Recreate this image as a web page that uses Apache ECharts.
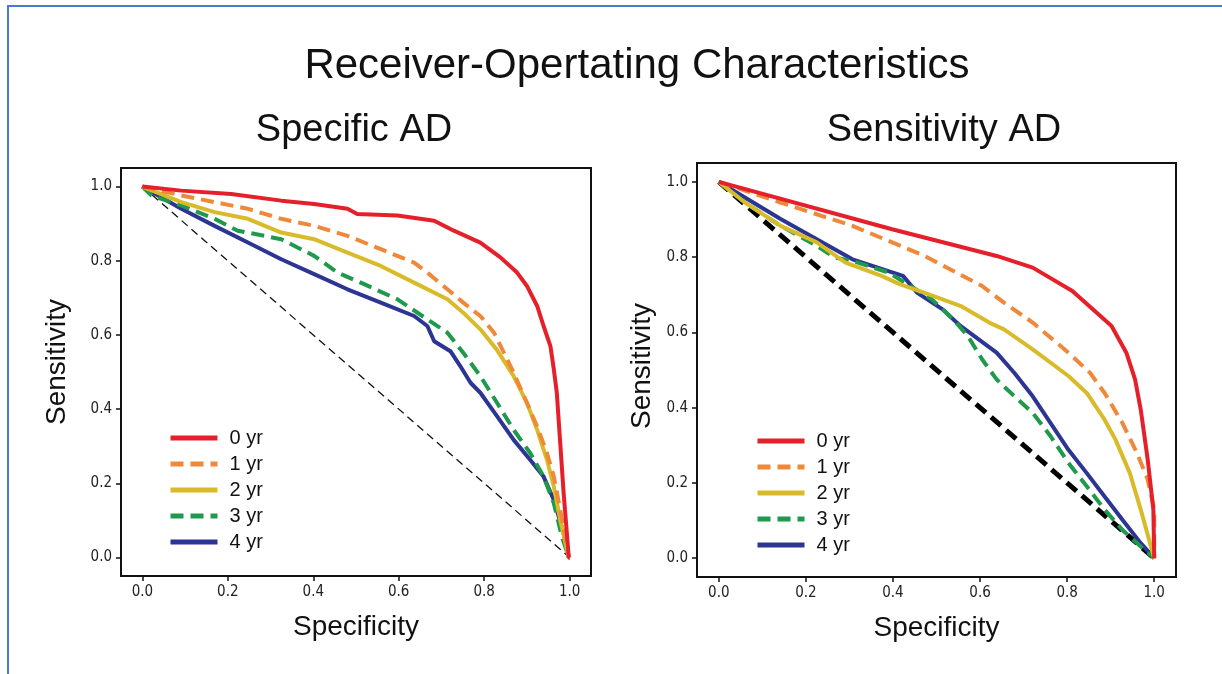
<!DOCTYPE html>
<html>
<head>
<meta charset="utf-8">
<script src="https://cdn.jsdelivr.net/npm/echarts@6/dist/echarts.min.js"></script>
<style>
html,body{margin:0;padding:0;background:#fff;}
#chart{width:1222px;height:674px;}
</style>
</head>
<body>
<div id="chart"></div>
<script>
// ---- data ----
const seriesNames = ['0 yr', '1 yr', '2 yr', '3 yr', '4 yr'];
const tickValues = [0, 0.2, 0.4, 0.6, 0.8, 1.0];

// Left panel: Specific AD  [specificity, sensitivity]
const specific0 = [[0,1],[0.091,0.989],[0.208,0.98],[0.325,0.962],[0.402,0.953],[0.48,0.94],[0.503,0.926],[0.597,0.922],[0.683,0.908],[0.729,0.881],[0.791,0.849],[0.838,0.809],[0.877,0.768],[0.9,0.732],[0.924,0.678],[0.939,0.624],[0.955,0.57],[0.963,0.507],[0.97,0.444],[0.978,0.308],[0.986,0.173],[0.998,0.0],[1,0]];
const specific1 = [[0,1],[0.091,0.976],[0.169,0.958],[0.247,0.94],[0.325,0.913],[0.402,0.894],[0.48,0.867],[0.558,0.831],[0.636,0.795],[0.667,0.768],[0.714,0.723],[0.751,0.687],[0.791,0.651],[0.823,0.606],[0.846,0.552],[0.869,0.498],[0.9,0.417],[0.924,0.353],[0.947,0.281],[0.963,0.218],[0.978,0.128],[0.998,0],[1,0]];
const specific2 = [[0,1],[0.091,0.958],[0.169,0.931],[0.247,0.913],[0.325,0.876],[0.402,0.858],[0.48,0.822],[0.558,0.786],[0.636,0.741],[0.714,0.696],[0.751,0.66],[0.791,0.615],[0.829,0.561],[0.869,0.489],[0.9,0.417],[0.924,0.344],[0.947,0.263],[0.963,0.191],[0.978,0.101],[0.998,0],[1,0]];
const specific3 = [[0,1],[0.021,0.976],[0.091,0.949],[0.169,0.913],[0.223,0.881],[0.286,0.867],[0.325,0.858],[0.402,0.813],[0.457,0.768],[0.519,0.737],[0.597,0.696],[0.667,0.642],[0.714,0.606],[0.751,0.552],[0.791,0.489],[0.83,0.417],[0.869,0.344],[0.908,0.281],[0.939,0.218],[0.963,0.146],[0.982,0.056],[0.998,0],[1,0]];
const specific4 = [[0,1],[0.091,0.94],[0.169,0.894],[0.247,0.849],[0.325,0.804],[0.402,0.764],[0.48,0.723],[0.558,0.687],[0.636,0.651],[0.667,0.624],[0.683,0.583],[0.721,0.556],[0.744,0.516],[0.768,0.471],[0.791,0.444],[0.83,0.381],[0.869,0.317],[0.908,0.263],[0.939,0.218],[0.963,0.155],[0.986,0.065],[0.998,0],[1,0]];

// Right panel: Sensitivity AD
const sensitivity0 = [[0,1],[0.398,0.874],[0.638,0.803],[0.721,0.772],[0.812,0.71],[0.902,0.617],[0.936,0.546],[0.956,0.475],[0.969,0.395],[0.985,0.262],[0.998,0.129],[1,0]];
const sensitivity1 = [[0,1],[0.142,0.945],[0.307,0.883],[0.473,0.803],[0.605,0.723],[0.655,0.679],[0.721,0.626],[0.803,0.546],[0.853,0.492],[0.886,0.439],[0.927,0.359],[0.96,0.28],[0.985,0.209],[1,0.13],[1,0]];
const sensitivity2 = [[0,1],[0.06,0.945],[0.142,0.883],[0.225,0.839],[0.291,0.785],[0.374,0.75],[0.415,0.728],[0.473,0.705],[0.556,0.67],[0.621,0.626],[0.655,0.608],[0.721,0.555],[0.803,0.484],[0.845,0.439],[0.886,0.368],[0.911,0.315],[0.944,0.226],[0.969,0.129],[1,0]];
const sensitivity3 = [[0,1],[0.06,0.945],[0.142,0.883],[0.225,0.83],[0.266,0.799],[0.307,0.79],[0.39,0.759],[0.44,0.723],[0.489,0.688],[0.539,0.634],[0.572,0.59],[0.605,0.528],[0.638,0.475],[0.679,0.43],[0.721,0.386],[0.762,0.324],[0.803,0.253],[0.845,0.191],[0.886,0.129],[0.927,0.075],[0.969,0.031],[1,0]];
const sensitivity4 = [[0,1],[0.142,0.901],[0.307,0.794],[0.423,0.75],[0.456,0.705],[0.514,0.661],[0.555,0.617],[0.638,0.546],[0.679,0.492],[0.721,0.43],[0.762,0.359],[0.803,0.288],[0.845,0.226],[0.886,0.164],[0.927,0.102],[0.969,0.04],[1,0]];

const chanceLine = [[0,1],[1,0]];

// ---- styles ----
const colors = ['#e5202a', '#f0883a', '#d9bb2a', '#1f9a4c', '#2c3593'];
const dashTypes = ['solid', [13, 7], 'solid', [13, 7], 'solid'];
const leftData = [specific0, specific1, specific2, specific3, specific4];
const rightData = [sensitivity0, sensitivity1, sensitivity2, sensitivity3, sensitivity4];

const tickFont = "'DejaVu Sans Condensed','Liberation Sans Narrow','DejaVu Sans',sans-serif";
const textFont = "'Liberation Sans', Arial, sans-serif";

function axisCommon(gridIndex, name, gap, namePad) {
  return {
    type: 'value', gridIndex, min: -0.05, max: 1.05,
    name, nameLocation: 'middle', nameGap: gap,
    nameTextStyle: {fontSize: 28, color: '#111', fontFamily: textFont, padding: namePad},
    axisLine: {show: true, onZero: false, lineStyle: {color: '#111', width: 2}},
    axisTick: {show: true, customValues: tickValues, length: 5, lineStyle: {color: '#111', width: 1.5}},
    axisLabel: {customValues: tickValues, formatter: v => v.toFixed(1), fontSize: 15, color: '#222', fontFamily: tickFont, margin: 9},
    splitLine: {show: false}
  };
}

const series = [];
series.push({type: 'line', xAxisIndex: 0, yAxisIndex: 0, data: chanceLine, symbol: 'none', silent: true,
  lineStyle: {color: '#111', width: 1.3, type: [8, 5]}, z: 1});
series.push({type: 'line', xAxisIndex: 1, yAxisIndex: 1, data: chanceLine, symbol: 'none', silent: true,
  lineStyle: {color: '#000', width: 5, type: [13, 7]}, z: 1});
[[0, leftData], [1, rightData]].forEach(([gi, arr]) => {
  arr.forEach((d, i) => {
    series.push({
      name: seriesNames[i], type: 'line', xAxisIndex: gi, yAxisIndex: gi, data: d,
      symbol: 'none', color: colors[i],
      lineStyle: {color: colors[i], width: 4, type: dashTypes[i]}, z: 2 + (4 - i)
    });
  });
});

function legend(left, top) {
  return {
    orient: 'vertical', left, top, data: seriesNames,
    itemWidth: 47, itemHeight: 14, itemGap: 6, padding: 0,
    itemStyle: {opacity: 0},
    lineStyle: {width: 5},
    textStyle: {fontSize: 20, lineHeight: 20, color: '#111', fontFamily: textFont, padding: [0, 0, 0, 7]},
    selectedMode: false
  };
}

const option = {
  backgroundColor: '#fff',
  animation: false,
  grid: [
    {left: 121, top: 168, width: 470, height: 408, show: true, borderColor: '#111', borderWidth: 2},
    {left: 697, top: 163, width: 479, height: 414, show: true, borderColor: '#111', borderWidth: 2}
  ],
  xAxis: [axisCommon(0, 'Specificity', 37), axisCommon(1, 'Specificity', 37)],
  yAxis: [axisCommon(0, 'Sensitivity', 50, [0, 0, 0, 20]), axisCommon(1, 'Sensitivity', 41, [0, 0, 0, 8])],
  legend: [legend(168, 428), legend(755, 431)],
  graphic: [
    {type: 'rect', shape: {x: 8, y: 6, width: 1300, height: 800}, style: {fill: 'none', stroke: '#4a78d0', lineWidth: 2}, silent: true},
    {type: 'text', style: {text: 'Receiver-Opertating Characteristics', x: 637, y: 66, textAlign: 'center', textVerticalAlign: 'middle', fontSize: 42, fill: '#111', fontFamily: textFont}},
    {type: 'text', style: {text: 'Specific AD', x: 354, y: 131, textAlign: 'center', textVerticalAlign: 'middle', fontSize: 38, fill: '#111', fontFamily: textFont}},
    {type: 'text', style: {text: 'Sensitivity AD', x: 944, y: 131, textAlign: 'center', textVerticalAlign: 'middle', fontSize: 38, fill: '#111', fontFamily: textFont}}
  ],
  series
};

const chart = echarts.init(document.getElementById('chart'), null, {renderer: 'canvas'});
chart.setOption(option);
</script>
</body>
</html>
